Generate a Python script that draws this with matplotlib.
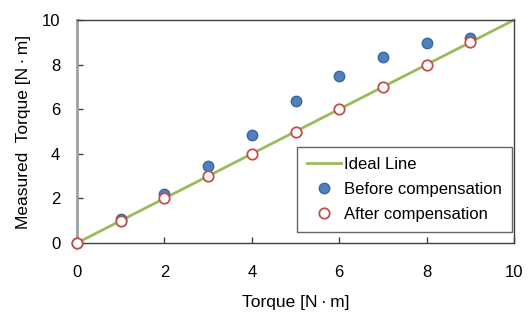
import matplotlib
matplotlib.use("Agg")
import matplotlib.pyplot as plt

plt.rcParams['font.family'] = ['Liberation Sans', 'DejaVu Sans']

torque = [0, 1, 2, 3, 4, 5, 6, 7, 8, 9]
before = [0.0, 1.08, 2.2, 3.47, 4.86, 6.38, 7.47, 8.36, 8.95, 9.18]
after = [0, 1, 2, 3, 4, 5, 6, 7, 8, 9]
ideal_x = [0, 10]
ideal_y = [0, 10]
ticks = [0, 2, 4, 6, 8, 10]

fig = plt.figure(figsize=(5.31, 3.13), dpi=100)
ax = fig.add_axes([77/531, 1-243/313, (514-77)/531, (243-20)/313])

ax.plot(ideal_x, ideal_y, color='#9BBB59', lw=2, label='Ideal Line', zorder=2, clip_on=False)
ax.plot(torque, before, linestyle='none', marker='o', ms=7.5, mfc='#4F81BD', mec='#3A679E',
        mew=1, label='Before compensation', zorder=3, clip_on=False)
ax.plot(after, after, linestyle='none', marker='o', ms=7.5, mfc='white', mec='#C0504D',
        mew=1.3, label='After compensation', zorder=4, clip_on=False)

ax.set_xlim(0, 10)
ax.set_ylim(0, 10)
ax.set_xticks(ticks)
ax.set_yticks(ticks)
ax.tick_params(axis='both', direction='in', length=4.5, width=1, color='#404040', labelsize=12)
ax.tick_params(axis='x', pad=16)
ax.tick_params(axis='y', pad=12)

for s in ['top', 'right', 'bottom']:
    ax.spines[s].set_color('#404040')
    ax.spines[s].set_linewidth(1)
ax.spines['left'].set_color('#A0A0A0')
ax.spines['left'].set_linewidth(2)

ax.set_xlabel('Torque [N\u2009·\u2009m]', fontsize=12.5, labelpad=11)
ax.set_ylabel('Measured  Torque [N\u2009·\u2009m]', fontsize=12.5, labelpad=8)

leg = ax.legend(loc='lower right', bbox_to_anchor=((512-77)/437, (243-232)/223), borderaxespad=0,
                fontsize=12, frameon=True, fancybox=False, edgecolor='#404040',
                handlelength=2.0, handletextpad=0.2, borderpad=0.6, labelspacing=0.6)
leg.get_frame().set_linewidth(1)

fig.savefig('out.png', dpi=100)
